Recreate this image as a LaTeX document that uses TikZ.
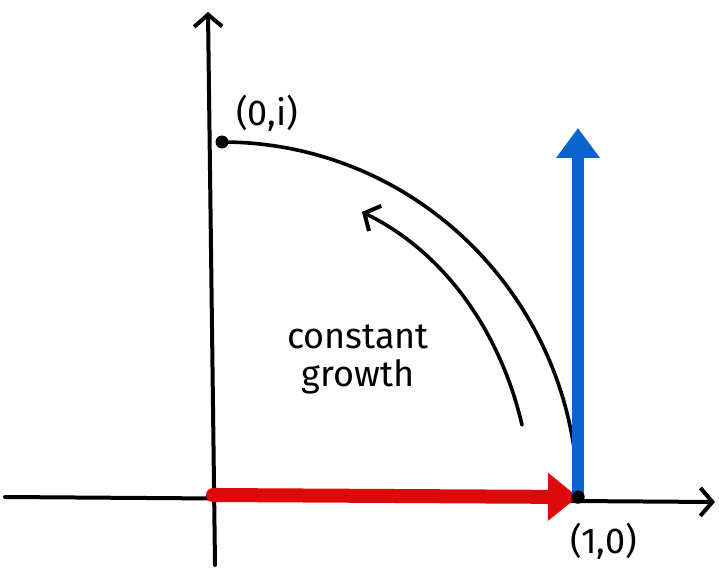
\documentclass[tikz,border=0pt]{standalone}
\usepackage{fontspec}
\setmainfont{Fira Sans}
\usetikzlibrary{positioning, arrows.meta}
\definecolor{skblue}{HTML}{0A64CC}
\definecolor{skred}{HTML}{DC0A0A}

\begin{document}
\begin{tikzpicture}[x=1pt, y=-1pt, line cap=round, line join=round,
    axis/.style={line width=4pt, -{Straight Barb[length=12pt, width=28pt, line width=4pt]}},
    dot/.style={circle, fill=black, inner sep=0pt, minimum size=13pt},
    lbl/.style={font=\fontsize{36}{38}\selectfont, align=center}]
  \useasboundingbox (0,0) rectangle (719,572);
  % axes
  \coordinate (xstart) at (5,497);
  \coordinate (xend) at (715,502);
  \coordinate (ybot) at (215,565);
  \coordinate (ytop) at (208,12);
  \draw[axis] (xstart) -- (xend);
  \draw[axis] (ybot) -- (ytop);
  \coordinate (o) at (213,495);
  \node[dot] (pi) at (222,142) {};
  \node[dot] (pone) at (578,497) {};
  % unit circle arc
  \draw[line width=3.6pt] (pi.center) .. controls (417,142) and (575,300) .. (pone.center);
  % growth arrow
  \coordinate (gs) at (522,425);
  \coordinate (ge) at (362,212);
  \draw[axis, line width=3.6pt] (gs) .. controls (501,334) and (446,253) .. (ge);
  % vectors
  \draw[line width=14pt, skred, -{Triangle[length=30pt, width=46pt]}] (o) -- (pone.center);
  \draw[line width=12pt, skblue, -{Triangle[length=30pt, width=42pt]}] (pone.center) -- (578,128);
  \node[dot] at (pone) {};
  % labels
  \node[lbl, above right=2pt and 6pt of pi] (lpi) {(0,i)};
  \node[lbl, below right=18pt and -16pt of pone] (lpone) {(1,0)};
  \node[lbl] (growth) at (358,360) {constant\\growth};
\end{tikzpicture}
\end{document}
